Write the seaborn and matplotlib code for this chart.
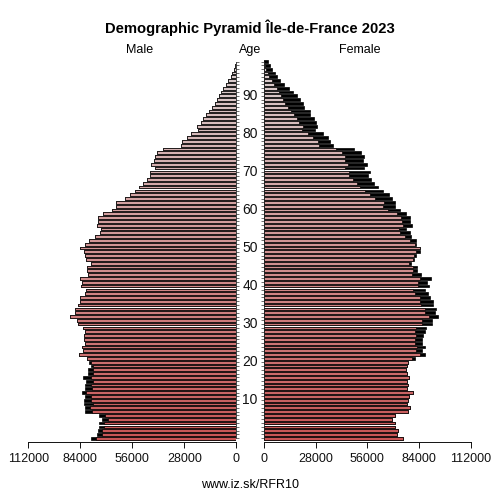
import matplotlib
matplotlib.use("Agg")
import matplotlib.pyplot as plt
import matplotlib.transforms as mtransforms
from matplotlib.colors import hsv_to_rgb
import numpy as np
import pandas as pd
import seaborn as sns

# population by single year of age, 0..99
ages = list(range(100))

male = [
    78200, 74800, 74600, 74100, 74100, 72500, 73900, 81300, 81400, 81900,
    82200, 81400, 83100, 81300, 81400, 81100, 82500, 79900, 79900, 78200,
    79100, 80200, 84500, 82400, 82900, 81600, 81900, 82200, 81600, 82400,
    85400, 85600, 89400, 87000, 87000, 85100, 84300, 84200, 81600, 80800,
    83600, 83100, 84300, 80000, 80600, 80400, 78400, 80800, 81300, 82200,
    84300, 81600, 79300, 76300, 73600, 73000, 75200, 74600, 74300, 72000,
    67100, 64600, 65000, 60100, 57200, 54700, 52200, 50400, 48300, 46300,
    46300, 43900, 45800, 44100, 43900, 42500, 39300, 29900, 29100, 26700,
    24200, 20600, 21000, 19200, 17800, 16300, 14900, 13100, 11600, 10600,
    9100, 8100, 7000, 5700, 4300, 3000, 2100, 1200, 500, 200]

female = [
    75400, 72100, 72400, 71200, 71100, 69200, 70900, 77800, 79000, 77300,
    78100, 78300, 80800, 77600, 78100, 77400, 78300, 77400, 77100, 77300,
    78000, 81600, 87300, 85300, 87000, 85500, 85700, 85900, 87200, 87700,
    91100, 90900, 94200, 92600, 93300, 91700, 91300, 90000, 88600, 87300,
    89100, 88100, 90600, 85000, 82900, 82800, 79400, 81000, 82300, 84300,
    84600, 82300, 82100, 79800, 78900, 76700, 80100, 79000, 79000, 77100,
    73600, 70900, 70900, 69200, 67700, 64600, 61900, 59800, 57800, 56500,
    57400, 54000, 56000, 53800, 54400, 52600, 48800, 37300, 35700, 34600,
    31900, 27700, 28600, 28300, 27000, 25000, 25000, 22000, 21400, 19400,
    18000, 15700, 13800, 10800, 9000, 7400, 5900, 4700, 3400, 2500]

x_ticks = [0, 28000, 56000, 84000, 112000]
age_labels = [10, 20, 30, 40, 50, 60, 70, 80, 90]

title = "Demographic Pyramid Île-de-France 2023"
source = "www.iz.sk/RFR10"

df = pd.DataFrame({"age": ages, "male": male, "female": female})
df["common"] = np.minimum(df["male"], df["female"])
df["age_s"] = df["age"].astype(str)

# colour ramp: red for the young, greyish pink for the old
sat = np.linspace(0.70, 0.06, len(ages))
colors = [hsv_to_rgb((0.0, s, 0.86)) for s in sat]

sns.set_style("white")
plt.rcParams["font.family"] = ["Liberation Sans", "DejaVu Sans"]
plt.rcParams["text.color"] = "black"

W = 500.0
fig = plt.figure(figsize=(5, 5), dpi=100)
bottom = 1 - 442.3 / W
height = (442.3 - 58.1) / W
ax_m = fig.add_axes([28.3 / W, bottom, (236.3 - 28.3) / W, height])
ax_f = fig.add_axes([263.7 / W, bottom, (471.0 - 263.7) / W, height])

bar_kw = dict(orient="h", native_scale=True, width=0.72, errorbar=None,
              edgecolor="black", linewidth=0.5)

for ax, col in ((ax_m, "male"), (ax_f, "female")):
    sns.barplot(data=df, x=col, y="age", color="black", ax=ax, **bar_kw)
    sns.barplot(data=df, x="common", y="age", hue="age_s",
                hue_order=list(df["age_s"]), palette=colors, dodge=False,
                legend=False, ax=ax, **bar_kw)
    ax.set_ylim(-1.05, 99.9)
    ax.set_xlabel("")
    ax.set_ylabel("")
    ax.set_xticks(x_ticks)
    ax.set_xticklabels([str(t) for t in x_ticks])
    ax.tick_params(axis="x", direction="out", length=4.5, width=0.7,
                   labelsize=9, pad=3, colors="#111111", bottom=True)
    ax.set_yticks(ages)
    ax.set_yticklabels([])
    ax.spines["bottom"].set_linewidth(0.7)
    ax.spines["bottom"].set_color("#111111")
    ax.spines["top"].set_visible(False)

ax_m.set_xlim(112000, 0)
ax_f.set_xlim(0, 112000)

ax_m.spines["left"].set_visible(False)
ax_m.spines["right"].set_bounds(0, 99)
ax_m.spines["right"].set_linewidth(0.6)
ax_m.yaxis.tick_right()
ax_m.tick_params(axis="y", direction="out", length=2.5, width=0.6,
                 colors="#555555", right=True, left=False)

ax_f.spines["right"].set_visible(False)
ax_f.spines["left"].set_bounds(0, 99)
ax_f.spines["left"].set_linewidth(0.6)
ax_f.tick_params(axis="y", direction="out", length=2.5, width=0.6,
                 colors="#555555", left=True, right=False)

# age labels in the gap
trans = mtransforms.blended_transform_factory(fig.transFigure, ax_m.transData)
for a in age_labels:
    ax_m.text(250 / W, a, str(a), transform=trans, ha="center", va="center",
              fontsize=10, color="#111111")

fig.text(0.5, 1 - 28 / W, title, ha="center", va="center", fontsize=10.6,
         fontweight="bold", color="black")
fig.text(140 / W, 1 - 50 / W, "Male", ha="center", va="center", fontsize=9)
fig.text(250 / W, 1 - 50 / W, "Age", ha="center", va="center", fontsize=9)
fig.text(360 / W, 1 - 50 / W, "Female", ha="center", va="center", fontsize=9)
fig.text(0.5, 1 - 485 / W, source, ha="center", va="center", fontsize=9)

fig.savefig("out.png", dpi=100)
plt.close(fig)
